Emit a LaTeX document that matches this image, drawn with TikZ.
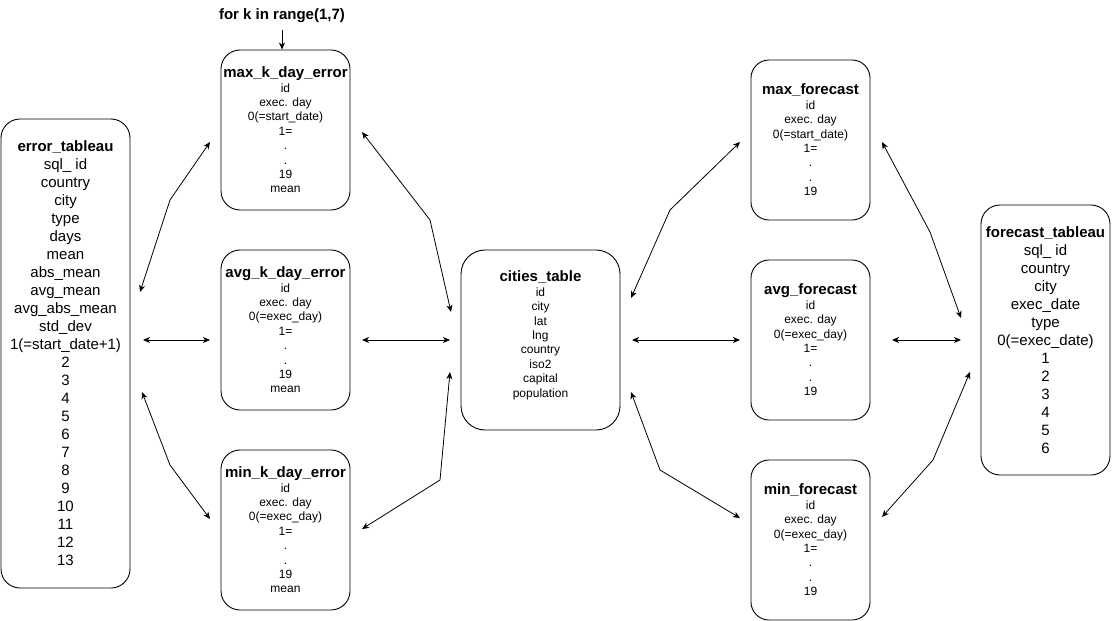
\documentclass[tikz,border=0pt]{standalone}
\usepackage{fontspec}
\setmainfont{Liberation Sans}
\usetikzlibrary{arrows.meta}
\tikzset{
  tbl/.style={draw=black, line width=0.9pt, align=center, inner sep=0pt},
  smalltbl/.style={tbl, font=\fontsize{12}{14.4}\selectfont, minimum width=129pt, minimum height=160pt, rounded corners=19pt},
  bigtbl/.style={tbl, font=\fontsize{15}{18}\selectfont, minimum width=129pt, rounded corners=19pt},
  tip/.tip={Stealth[length=7pt,width=6pt,inset=2pt]},
  link/.style={line width=0.8pt, tip-tip},
  onelink/.style={line width=0.8pt, -tip},
}
\newcommand{\ttl}[1]{\textbf{\fontsize{15}{18}\selectfont #1}}
\begin{document}
\begin{tikzpicture}[x=1pt,y=-1pt]
\useasboundingbox (0,0) rectangle (1112,621);

% tables
\node[bigtbl, minimum height=469pt] (err) at (65.5,353.5)
  {\ttl{error\_tableau}\\sql\_{}\ id\\country\\city\\type\\days\\mean\\abs\_mean\\avg\_mean\\avg\_abs\_mean\\std\_dev\\1(=start\_date+1)\\2\\3\\4\\5\\6\\7\\8\\9\\10\\11\\12\\13};

\node[smalltbl] (maxk) at (285.5,130)
  {\ttl{max\_k\_day\_error}\\id\\exec. day\\0(=start\_date)\\1=\\.\\.\\19\\mean};
\node[smalltbl] (avgk) at (285.5,330)
  {\ttl{avg\_k\_day\_error}\\id\\exec. day\\0(=exec\_day)\\1=\\.\\.\\19\\mean};
\node[smalltbl] (mink) at (285.5,530)
  {\ttl{min\_k\_day\_error}\\id\\exec. day\\0(=exec\_day)\\1=\\.\\.\\19\\mean};

\node[smalltbl, minimum width=159pt, minimum height=180pt, rounded corners=24pt] (cities) at (540.5,340)
  {\ttl{cities\_table}\\id\\city\\lat\\lng\\country\\iso2\\capital\\population\\[-2.4pt]};

\node[smalltbl, minimum width=119pt, rounded corners=18pt] (maxf) at (810.5,140)
  {\ttl{max\_forecast}\\id\\exec. day\\0(=start\_date)\\1=\\.\\.\\19};
\node[smalltbl, minimum width=119pt, rounded corners=18pt] (avgf) at (810.5,340)
  {\ttl{avg\_forecast}\\id\\exec. day\\0(=exec\_day)\\1=\\.\\.\\19};
\node[smalltbl, minimum width=119pt, rounded corners=18pt] (minf) at (810.5,540)
  {\ttl{min\_forecast}\\id\\exec. day\\0(=exec\_day)\\1=\\.\\.\\19};

\node[bigtbl, minimum height=270pt] (fct) at (1045.5,340)
  {\ttl{forecast\_tableau}\\sql\_{}\ id\\country\\city\\exec\_date\\type\\0(=exec\_date)\\1\\2\\3\\4\\5\\6};

% loop label
\node[font=\bfseries\fontsize{15}{18}\selectfont, inner sep=0pt] (loop) at (282,16) {for k in range(1,7)};
\coordinate (loopstart) at (282,30);
\draw[onelink] (loopstart) -- (loopstart |- maxk.north);

% connector end points
\coordinate (e1a) at (140,292); \coordinate (e1m) at (170,200); \coordinate (e1b) at (210,142);
\coordinate (e2a) at (143,340); \coordinate (e2b) at (210,340);
\coordinate (e3a) at (142,392); \coordinate (e3m) at (170,465); \coordinate (e3b) at (210,519);

\coordinate (m1a) at (362,132); \coordinate (m1m) at (430,220); \coordinate (m1b) at (451,312);
\coordinate (m2a) at (362,340); \coordinate (m2b) at (450,340);
\coordinate (m3a) at (362,529); \coordinate (m3m) at (440,480); \coordinate (m3b) at (450,372);

\coordinate (c1a) at (631,298); \coordinate (c1m) at (670,210); \coordinate (c1b) at (740,142);
\coordinate (c2a) at (632,340); \coordinate (c2b) at (740,340);
\coordinate (c3a) at (631,392); \coordinate (c3m) at (660,470); \coordinate (c3b) at (740,518);

\coordinate (r1a) at (882,142); \coordinate (r1m) at (930,232); \coordinate (r1b) at (961,318);
\coordinate (r2a) at (892,340); \coordinate (r2b) at (961,340);
\coordinate (r3a) at (882,517); \coordinate (r3m) at (933,460); \coordinate (r3b) at (970,372);

\draw[link] (e1a) -- (e1m) -- (e1b);
\draw[link] (e2a) -- (e2b);
\draw[link] (e3a) -- (e3m) -- (e3b);
\draw[link] (m1a) -- (m1m) -- (m1b);
\draw[link] (m2a) -- (m2b);
\draw[link] (m3a) -- (m3m) -- (m3b);
\draw[link] (c1a) -- (c1m) -- (c1b);
\draw[link] (c2a) -- (c2b);
\draw[link] (c3a) -- (c3m) -- (c3b);
\draw[link] (r1a) -- (r1m) -- (r1b);
\draw[link] (r2a) -- (r2b);
\draw[link] (r3a) -- (r3m) -- (r3b);
\end{tikzpicture}
\end{document}
